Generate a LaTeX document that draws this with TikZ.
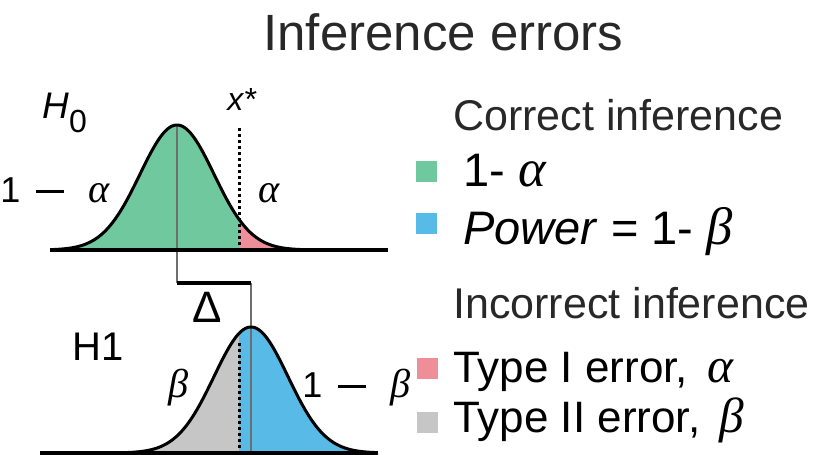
\documentclass[tikz,border=0pt]{standalone}
\usepackage{fontspec}
\setmainfont{Liberation Sans}
\newfontfamily\grkfont[Scale=1.12]{Liberation Serif}
\newcommand{\ga}{{\grkfont\itshape α}}
\newcommand{\gb}{{\grkfont\itshape β}}
\newcommand{\minusbar}{\rule[4.6pt]{14pt}{1.4pt}}
\definecolor{infgreen}{RGB}{111,200,158}
\definecolor{infblue}{RGB}{88,186,230}
\definecolor{infpink}{RGB}{238,142,152}
\definecolor{infgray}{RGB}{198,198,198}
\definecolor{infdark}{RGB}{40,40,40}
\definecolor{infthin}{RGB}{110,110,110}
\usetikzlibrary{positioning}

\begin{document}
\begin{tikzpicture}[x=0.5pt, y=-0.5pt,
  declare function={bellA(\x)=250-125*exp(-0.5*((\x-177)/37)^2);
                    bellB(\x)=453-126*exp(-0.5*((\x-251)/37)^2);},
  bell/.style={line width=1.5pt, line join=round},
  baseline/.style={line width=2pt},
  meanline/.style={line width=0.6pt, infthin},
  cutline/.style={line width=1.5pt, dash pattern=on 1.5pt off 1.5pt},
  keybox/.style={minimum size=10.5pt, inner sep=0pt},
  label/.style={anchor=base west, inner sep=0pt, font=\fontsize{18}{21}\selectfont},
  keyhead/.style={anchor=base west, inner sep=0pt, text=infdark, font=\fontsize{21.5}{25}\selectfont},
  keyitem/.style={anchor=base west, inner sep=0pt, font=\fontsize{22}{26}\selectfont}]
  \useasboundingbox (0,0) rectangle (815,455);

  %--- Title ---
  \node[anchor=base west, inner sep=0pt, text=infdark, font=\fontsize{25.5}{30}\selectfont] (title) at (263,50) {Inference errors};

  %--- H0 curve ---
  \fill[infgreen] (51,250) -- plot[domain=51:239, samples=70] (\x,{bellA(\x)}) -- (239,250) -- cycle;
  \fill[infpink] (239,250) -- plot[domain=239:303, samples=30] (\x,{bellA(\x)}) -- (303,250) -- cycle;
  \coordinate (top0) at (177,125);
  \coordinate (cut0) at (239,128);
  \coordinate (foot0) at (239,250);

  %--- H1 curve ---
  \fill[infgray] (125,453) -- plot[domain=125:239, samples=50] (\x,{bellB(\x)}) -- (239,453) -- cycle;
  \fill[infblue] (239,453) -- plot[domain=239:377, samples=60] (\x,{bellB(\x)}) -- (377,453) -- cycle;
  \coordinate (top1) at (251,327);
  \coordinate (cut1) at (239,343);
  \coordinate (foot1) at (239,453);
  \coordinate (base1) at (251,453);

  % Delta bracket between the means
  \coordinate (knee0) at (177,283);
  \coordinate (knee1) at (251,283);
  \draw[meanline] (top0) -- (knee0);
  \draw[meanline] (knee1) -- (base1);
  \draw[line width=2pt] (knee0) -- (knee1);

  % Critical value x*
  \draw[cutline] (cut0) -- (foot0);
  \draw[cutline] (cut1) -- (foot1);

  % Curves and axes
  \draw[bell] plot[domain=51:303, samples=120] (\x,{bellA(\x)});
  \draw[bell] plot[domain=125:377, samples=120] (\x,{bellB(\x)});
  \draw[baseline] (50,250) -- (388,250);
  \draw[baseline] (40,453) -- (378,453);

  %--- Curve labels ---
  \node[label, font=\fontsize{18.5}{21}\selectfont] (hnull) at (42,118) {\textit{H}\raisebox{-7pt}{\fontsize{16}{18}\selectfont 0}};
  \node[label, font=\fontsize{16}{19}\selectfont] (xcrit) at (227,110) {\textit{x*}};
  \node[label] (oneminusa) at (0,202) {1\hspace{8pt}\minusbar\hspace{12pt}\ga};
  \node[label] (alpha) at (258,202) {\ga};
  \node[label, font=\fontsize{22}{26}\selectfont] (delta) at (192,322) {Δ};
  \node[label, font=\fontsize{20}{24}\selectfont] (halt) at (72,360) {H1};
  \node[label] (beta) at (168,397) {\gb};
  \node[label] (oneminusb) at (302,397) {1\hspace{8pt}\minusbar\hspace{12pt}\gb};

  %--- Legend ---
  \node[keyhead] (correct) at (453,130) {Correct inference};
  \node[keybox, fill=infgreen] (keyA) at (426,171) {};
  \node[keyitem, font=\fontsize{23.5}{28}\selectfont] (itemA) at (463,186) {1- \ga};
  \node[keybox, fill=infblue] (keyB) at (426,223) {};
  \node[keyitem, font=\fontsize{23.5}{28}\selectfont] (itemB) at (463,244) {\textit{Power} = 1- \gb};

  \node[keyhead] (incorrect) at (453,318) {Incorrect inference};
  \node[keybox, fill=infpink] (keyC) at (427,368) {};
  \node[keyitem] (itemC) at (453,382) {Type I error, \,\ga};
  \node[keybox, fill=infgray] (keyD) at (427,422) {};
  \node[keyitem] (itemD) at (453,432) {Type II error, \,\gb};
\end{tikzpicture}
\end{document}
